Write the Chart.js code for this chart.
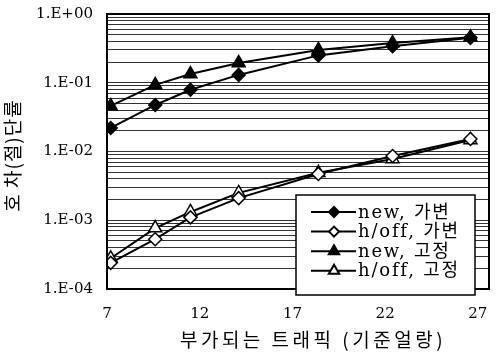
<!DOCTYPE html>
<html>
<head>
<meta charset="utf-8">
<script src="https://cdn.jsdelivr.net/npm/chart.js@4"></script>
<style>
  html, body { margin: 0; padding: 0; background: #fff; }
  #wrap { width: 498px; height: 356px; }
</style>
</head>
<body>
<div id="wrap"><canvas id="blocking"></canvas></div>
<script>
// offered traffic (Erlang) and blocking ratios
const traffic = [7.2, 9.6, 11.5, 14.1, 18.4, 22.4, 26.6];
const newVar  = [0.022, 0.0475, 0.079, 0.13, 0.25, 0.34, 0.45];
const hoffVar = [0.00024, 0.00053, 0.0011, 0.0021, 0.0047, 0.0086, 0.0152];
const newFix  = [0.046, 0.093, 0.134, 0.194, 0.30, 0.378, 0.46];
const hoffFix = [0.00028, 0.00077, 0.00132, 0.0025, 0.0049, 0.0078, 0.0147];
const xTicks  = [7, 12, 17, 22, 27];
const decades = [-4, -3, -2, -1, 0];
const labels  = ['new, 가변', 'h/off, 가변', 'new, 고정', 'h/off, 고정'];
const xTitle  = '부가되는 트래픽 (기준얼랑)';
const yTitle  = '호 차(절)단률';

const serif = '"DejaVu Serif", "Noto Sans CJK KR", serif';
const kfont = '"Noto Sans CJK KR", "DejaVu Serif", sans-serif';

function pts(ys) {
    return traffic.map((x, i) => ({x: x, y: ys[i]}));
}

function fmtExp(v) {
    let e = Math.round(Math.log10(v));
    if (Math.abs(Math.log10(v) - e) > 1e-9) return '';
    let s = String(Math.abs(e)).padStart(2, '0');
    return '1.E' + (e >= 0 ? '+' : '-') + s;
}

// axis titles drawn by hand so the wide letter spacing can be kept
const axisTitles = {
    id: 'axisTitles',
    afterDraw(chart) {
        const ctx = chart.ctx;
        const ca = chart.chartArea;
        ctx.save();
        ctx.fillStyle = '#000';
        ctx.textAlign = 'center';
        ctx.textBaseline = 'middle';
        ctx.font = '19px ' + kfont;
        if ('letterSpacing' in ctx) ctx.letterSpacing = '3.5px';
        ctx.fillText(xTitle, 313, 340);
        ctx.translate(13, (ca.top + ca.bottom) / 2 + 4);
        ctx.rotate(-Math.PI / 2);
        if ('letterSpacing' in ctx) ctx.letterSpacing = '1px';
        ctx.fillText(yTitle, 0, 0);
        ctx.restore();
    }
};

// box with line+marker samples, sits inside the plot in the lower right
const legendBox = {
    id: 'legendBox',
    afterDraw(chart) {
        const ctx = chart.ctx;
        const ca = chart.chartArea;
        const x0 = ca.right - 193, y0 = ca.bottom - 94, w = 179, h = 100;
        ctx.save();
        ctx.fillStyle = '#fff';
        ctx.fillRect(x0, y0, w, h);
        ctx.strokeStyle = '#000';
        ctx.lineWidth = 1.5;
        ctx.strokeRect(x0, y0, w, h);
        chart.data.datasets.forEach((ds, i) => {
            const y = y0 + 17 + i * 19.6;
            ctx.strokeStyle = '#000';
            ctx.lineWidth = 2;
            ctx.beginPath();
            ctx.moveTo(x0 + 15, y);
            ctx.lineTo(x0 + 60, y);
            ctx.stroke();
            ctx.fillStyle = ds.pointBackgroundColor;
            ctx.strokeStyle = '#000';
            Chart.helpers.drawPoint(ctx, {
                pointStyle: ds.pointStyle,
                radius: ds.pointStyle == 'triangle' ? 6 : 5,
                borderWidth: 1.5,
                rotation: 0
            }, x0 + 38, y);
            ctx.fillStyle = '#000';
            ctx.font = '18px ' + serif;
            ctx.textBaseline = 'middle';
            if ('letterSpacing' in ctx) ctx.letterSpacing = '1.8px';
            ctx.fillText(ds.label, x0 + 62, y + 1);
            if ('letterSpacing' in ctx) ctx.letterSpacing = '0px';
        });
        ctx.restore();
    }
};

const frame = {
    id: 'frame',
    afterDatasetsDraw(chart) {
        const ctx = chart.ctx;
        const ca = chart.chartArea;
        ctx.save();
        ctx.strokeStyle = '#000';
        ctx.lineWidth = 2;
        ctx.strokeRect(ca.left, ca.top, ca.right - ca.left, ca.bottom - ca.top);
        ctx.restore();
    }
};

function series(label, ys, style, fill, r) {
    return {
        label: label,
        data: pts(ys),
        borderColor: '#000',
        borderWidth: 2,
        pointStyle: style,
        pointRadius: r,
        pointBorderWidth: 1.5,
        pointBorderColor: '#000',
        pointBackgroundColor: fill,
        tension: 0
    };
}

let ctx = document.getElementById('blocking').getContext('2d');
new Chart(ctx, {
    type: 'line',
    data: {
        datasets: [
            series(labels[0], newVar, 'rectRot', '#000', 6.5),
            series(labels[1], hoffVar, 'rectRot', '#fff', 6.5),
            series(labels[2], newFix, 'triangle', '#000', 7.5),
            series(labels[3], hoffFix, 'triangle', '#fff', 7.5)
        ]
    },
    plugins: [frame, axisTitles, legendBox],
    options: {
        responsive: true,
        maintainAspectRatio: false,
        animation: false,
        layout: {
            padding: {top: 14, right: 2, bottom: 0, left: 0}
        },
        plugins: {
            legend: {display: false},
            tooltip: {enabled: false}
        },
        scales: {
            x: {
                type: 'linear',
                min: 7,
                max: 27.6,
                afterBuildTicks: s => { s.ticks = xTicks.map(v => ({value: v})); },
                afterFit: s => {
                    s.height = 67;
                    s.paddingLeft = 0;
                    s.paddingRight = 0;
                },
                grid: {display: false, drawTicks: false},
                border: {display: true, color: '#000', width: 2},
                ticks: {
                    color: '#000',
                    padding: 16,
                    font: {family: serif, size: 15}
                }
            },
            y: {
                type: 'logarithmic',
                min: 1e-4,
                max: 1,
                afterBuildTicks: s => {
                    let t = [];
                    decades.forEach(e => {
                        let n = e < 0 ? 9 : 1;
                        for (let k = 1; k <= n; k++) t.push({value: k * Math.pow(10, e)});
                    });
                    s.ticks = t;
                },
                afterFit: s => {
                    s.width = 107;
                    s.paddingTop = 0;
                    s.paddingBottom = 0;
                },
                grid: {color: '#333', lineWidth: 1, drawTicks: false},
                border: {display: true, color: '#000', width: 2},
                ticks: {
                    color: '#000',
                    autoSkip: false,
                    padding: 14,
                    font: {family: serif, size: 15},
                    callback: v => fmtExp(v)
                }
            }
        }
    }
});
</script>
</body>
</html>
